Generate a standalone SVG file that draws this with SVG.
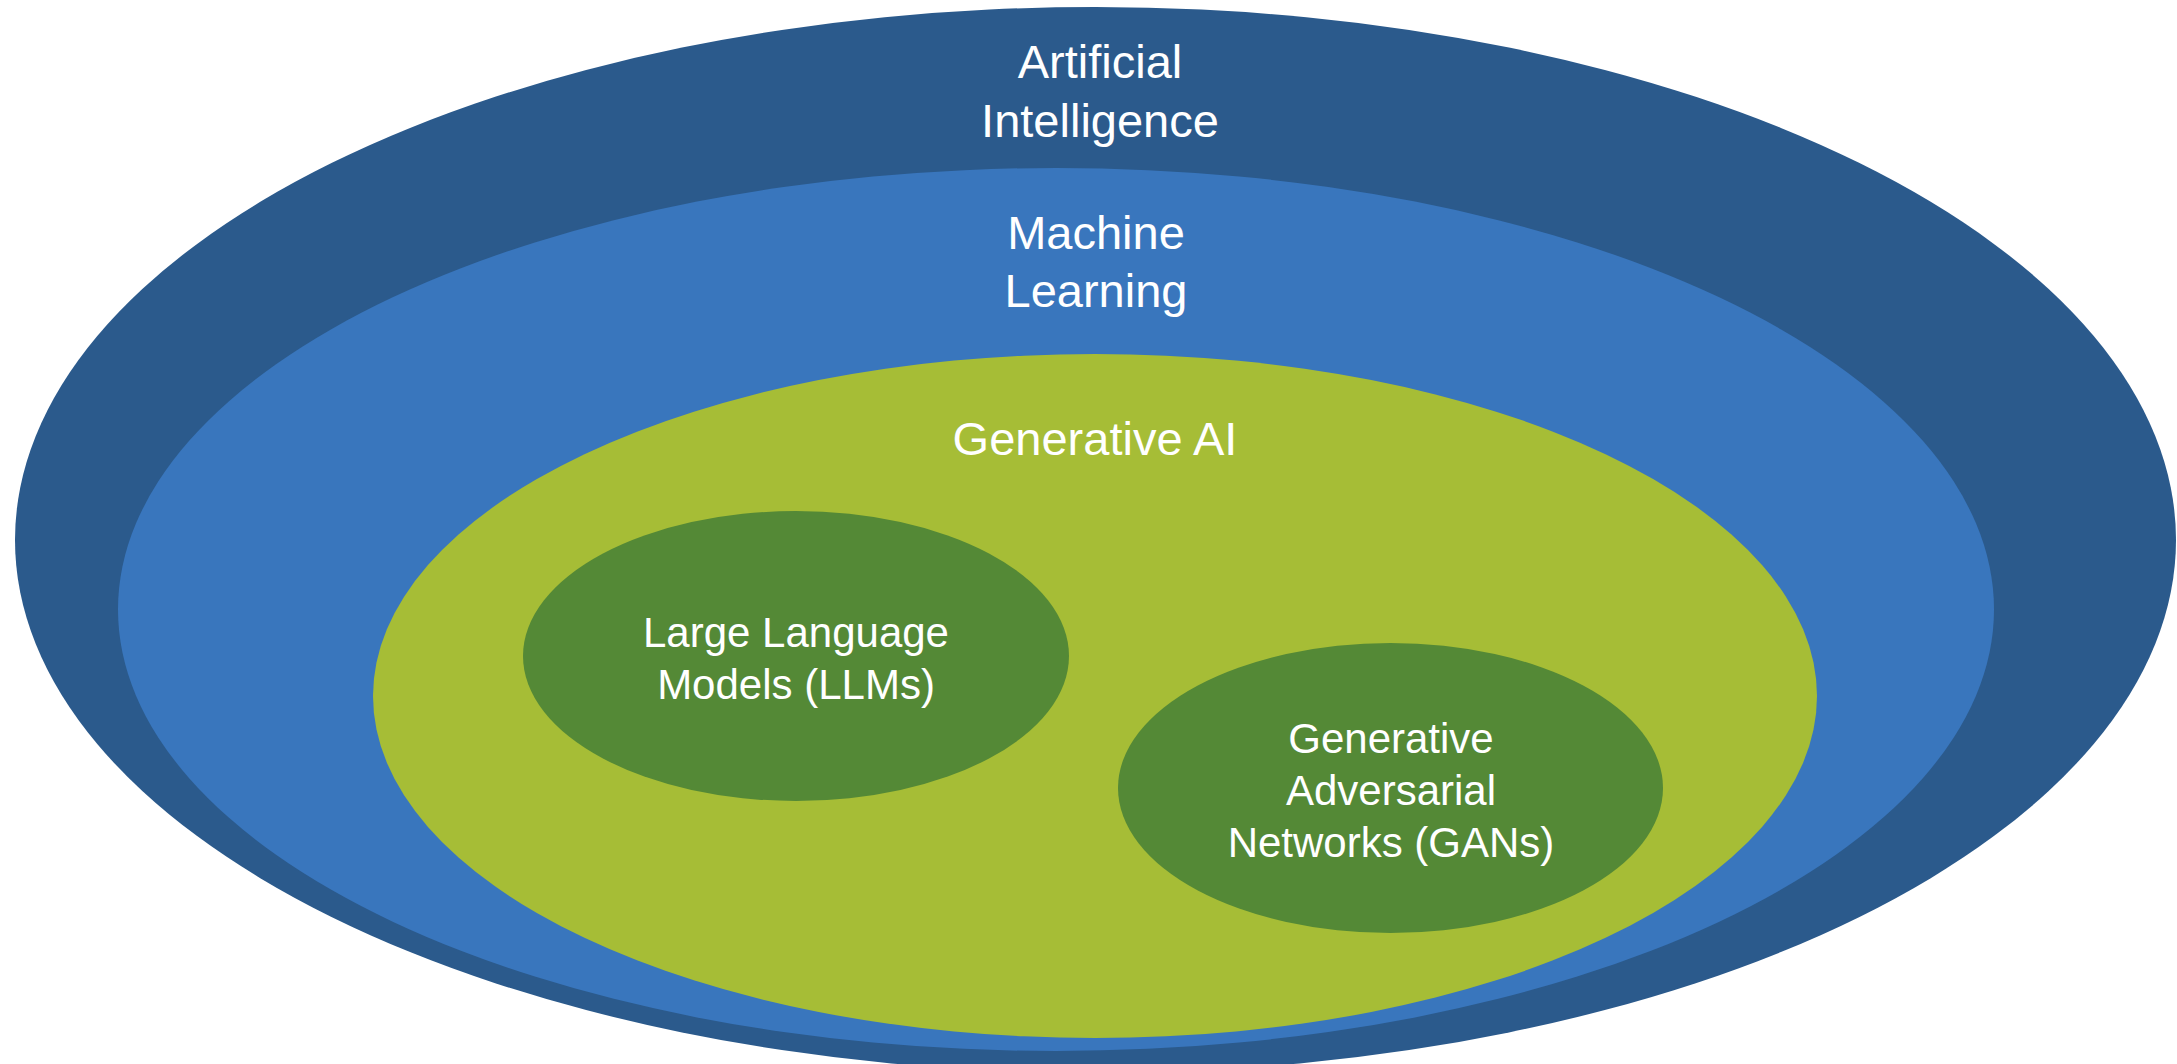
<svg xmlns="http://www.w3.org/2000/svg" width="2177" height="1064" viewBox="0 0 2177 1064">
<style>
.lbl{font-family:"Liberation Sans",Arial,sans-serif;fill:#ffffff;text-anchor:middle}
.big{font-size:47px}
.small{font-size:42px}
</style>
<rect width="2177" height="1064" fill="#ffffff"/>
<g id="ai">
<ellipse cx="1095.5" cy="540" rx="1080.5" ry="533" fill="#2B5A8C"/>
<text class="lbl big" x="1100" y="78">Artificial</text>
<text class="lbl big" x="1100" y="137">Intelligence</text>
</g>
<g id="ml">
<ellipse cx="1056" cy="609.5" rx="938" ry="441.5" fill="#3976BD"/>
<text class="lbl big" x="1096" y="249">Machine</text>
<text class="lbl big" x="1096" y="307">Learning</text>
</g>
<g id="genai">
<ellipse cx="1095" cy="696" rx="722" ry="342" fill="#A6BD36"/>
<text class="lbl big" x="1095" y="455">Generative AI</text>
</g>
<g id="llm">
<ellipse cx="796" cy="656" rx="273" ry="145" fill="#548936"/>
<text class="lbl small" x="796" y="647">Large Language</text>
<text class="lbl small" x="796" y="699">Models (LLMs)</text>
</g>
<g id="gan">
<ellipse cx="1390.5" cy="788" rx="272.5" ry="145" fill="#548936"/>
<text class="lbl small" x="1391" y="753">Generative</text>
<text class="lbl small" x="1391" y="805">Adversarial</text>
<text class="lbl small" x="1391" y="857">Networks (GANs)</text>
</g>
<g id="connectors"/>
</svg>
